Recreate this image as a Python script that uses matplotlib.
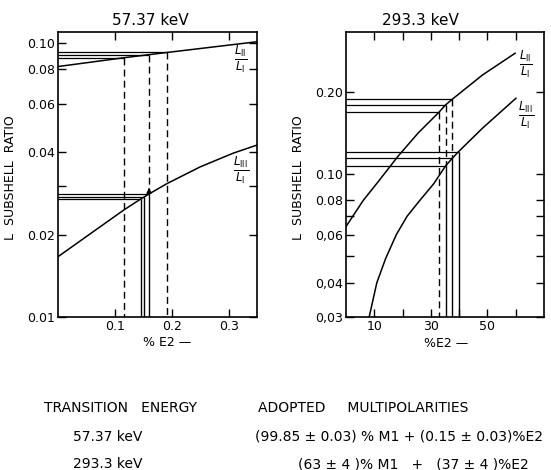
import matplotlib
matplotlib.use("Agg")
import matplotlib.pyplot as plt
from matplotlib.ticker import FixedLocator, FixedFormatter, NullFormatter

plt.rcParams['font.family'] = ['DejaVu Sans']

# 57.37 keV panel: %E2 vs L-subshell ratio
left_e2_l2 = [0.0, 0.116, 0.160, 0.192, 0.35]
left_l2 = [0.0820, 0.0883, 0.0906, 0.0923, 0.101]
left_e2_l3 = [0.0, 0.116, 0.1454, 0.1518, 0.160, 0.192, 0.25, 0.308, 0.35]
left_l3 = [0.0166, 0.0246, 0.02694, 0.02744, 0.02811, 0.0307, 0.0353, 0.0396, 0.0424]
# measured ratios (value +- error) and the %E2 they give
left_hi_e2 = [0.116, 0.160, 0.192]
left_hi_ratio = [0.0883, 0.0906, 0.0923]
left_lo_e2 = [0.1454, 0.1518, 0.160]
left_lo_ratio = [0.02694, 0.02744, 0.02811]

# 293.3 keV panel
right_e2_l2 = [0, 6.1, 11.4, 18.4, 25.5, 32.9, 35.2, 37.6, 48.3, 59.8]
right_l2 = [0.0642, 0.080, 0.0937, 0.116, 0.141, 0.1681, 0.1787, 0.1875, 0.230, 0.276]
right_e2_l3 = [8.2, 10.9, 14.0, 17.8, 21.6, 26.1, 31.0, 35.2, 37.6, 39.8, 48.3, 60.1]
right_l3 = [0.030, 0.040, 0.049, 0.060, 0.070, 0.080, 0.092, 0.1069, 0.1141, 0.1206, 0.147, 0.189]
right_hi_e2 = [32.9, 35.2, 37.6]
right_hi_ratio = [0.1681, 0.1787, 0.1875]
right_lo_e2 = [35.2, 37.6, 39.8]
right_lo_ratio = [0.1069, 0.1141, 0.1206]

left_yticks = [0.01, 0.02, 0.04, 0.06, 0.08, 0.10]
left_ylabels = ['0.01', '0.02', '0.04', '0.06', '0.08', '0.10']
left_yminor = [0.03]
left_xticks = [0.1, 0.2, 0.3]
left_xlabels = ['0.1', '0.2', '0.3']

right_yticks = [0.03, 0.04, 0.06, 0.08, 0.10, 0.20]
right_ylabels = ['0,03', '0,04', '0,06', '0.08', '0.10', '0.20']
right_yminor = [0.05, 0.07]
right_xticks = [10, 30, 50]
right_xlabels = ['10', '30', '50']
right_xminor = [20, 40, 60]

dash = (0, (5, 3))
frac2 = r'$\frac{L_{\mathrm{II}}}{L_{\mathrm{I}}}$'
frac3 = r'$\frac{L_{\mathrm{III}}}{L_{\mathrm{I}}}$'


def style_axes(ax, xt, xl, xm, yt, yl, ym):
    ax.set_yscale('log')
    ax.yaxis.set_major_locator(FixedLocator(yt))
    ax.yaxis.set_major_formatter(FixedFormatter(yl))
    ax.yaxis.set_minor_locator(FixedLocator(ym))
    ax.yaxis.set_minor_formatter(NullFormatter())
    ax.xaxis.set_major_locator(FixedLocator(xt))
    ax.xaxis.set_major_formatter(FixedFormatter(xl))
    ax.xaxis.set_minor_locator(FixedLocator(xm))
    ax.tick_params(which='both', direction='in', top=True, right=True,
                   length=6, width=1.0, labelsize=9, pad=2)
    for s in ax.spines.values():
        s.set_linewidth(1.2)


def draw_panel(ax, xc2, yc2, xc3, yc3, hi_x, hi_y, lo_x, lo_y, ybottom):
    ax.plot(xc2, yc2, color='black', lw=1.1)
    ax.plot(xc3, yc3, color='black', lw=1.1)
    ax.hlines(hi_y, 0, hi_x, color='black', lw=0.9)
    ax.hlines(lo_y, 0, lo_x, color='black', lw=0.9)
    for x, y in zip(hi_x, hi_y):
        end = lo_y[lo_x.index(x)] if x in lo_x else ybottom
        ax.plot([x, x], [y, end], color='black', lw=1.0, linestyle=dash)
    ax.vlines(lo_x, ybottom, lo_y, color='black', lw=1.0)


fig = plt.figure(figsize=(5.51, 4.70), dpi=100)
ax1 = fig.add_axes([0.1053, 0.3255, 0.3612, 0.6064])
ax2 = fig.add_axes([0.6279, 0.3255, 0.3593, 0.6064])

# left panel
draw_panel(ax1, left_e2_l2, left_l2, left_e2_l3, left_l3,
           left_hi_e2, left_hi_ratio, left_lo_e2, left_lo_ratio, 0.01)
ax1.annotate('', xy=(0.160, 0.0303), xytext=(0.160, 0.0285),
             arrowprops=dict(arrowstyle='-|>', color='black', lw=1.0,
                             mutation_scale=7))
ax1.set_xlim(0, 0.35)
ax1.set_ylim(0.01, 0.1096)
style_axes(ax1, left_xticks, left_xlabels, [], left_yticks, left_ylabels, left_yminor)
ax1.text(0.92, 0.905, frac2, transform=ax1.transAxes, ha='center', va='center', fontsize=12)
ax1.text(0.92, 0.516, frac3, transform=ax1.transAxes, ha='center', va='center', fontsize=12)
ax1.text(0.462, 1.042, '57.37 keV', transform=ax1.transAxes, ha='center', va='center', fontsize=11)
ax1.set_ylabel('L  SUBSHELL  RATIO', fontsize=9)
ax1.yaxis.set_label_coords(-0.206, 0.49)
ax1.set_xlabel('% E2 —', fontsize=9)
ax1.xaxis.set_label_coords(0.548, -0.067)

# right panel
draw_panel(ax2, right_e2_l2, right_l2, right_e2_l3, right_l3,
           right_hi_e2, right_hi_ratio, right_lo_e2, right_lo_ratio, 0.03)
ax2.set_xlim(0, 70)
ax2.set_ylim(0.03, 0.33)
style_axes(ax2, right_xticks, right_xlabels, right_xminor, right_yticks, right_ylabels, right_yminor)
ax2.text(0.909, 0.888, frac2, transform=ax2.transAxes, ha='center', va='center', fontsize=12)
ax2.text(0.909, 0.709, frac3, transform=ax2.transAxes, ha='center', va='center', fontsize=12)
ax2.text(0.374, 1.042, '293.3 keV', transform=ax2.transAxes, ha='center', va='center', fontsize=11)
ax2.set_ylabel('L  SUBSHELL  RATIO', fontsize=9)
ax2.yaxis.set_label_coords(-0.207, 0.49)
ax2.set_xlabel('%E2 —', fontsize=9)
ax2.xaxis.set_label_coords(0.505, -0.07)

# summary table under the plots
fig.text(121 / 551, 1 - 408 / 470, 'TRANSITION   ENERGY', ha='center', va='center', fontsize=10)
fig.text(363 / 551, 1 - 408 / 470, 'ADOPTED     MULTIPOLARITIES', ha='center', va='center', fontsize=10)
fig.text(108 / 551, 1 - 437 / 470, '57.37 keV', ha='center', va='center', fontsize=10)
fig.text(108 / 551, 1 - 464 / 470, '293.3 keV', ha='center', va='center', fontsize=10)
fig.text(399 / 551, 1 - 437 / 470, '(99.85 ± 0.03) % M1 + (0.15 ± 0.03)%E2',
         ha='center', va='center', fontsize=10)
fig.text(413 / 551, 1 - 464 / 470, '(63 ± 4 )% M1   +   (37 ± 4 )%E2',
         ha='center', va='center', fontsize=10)

fig.savefig('out.png', dpi=100)
